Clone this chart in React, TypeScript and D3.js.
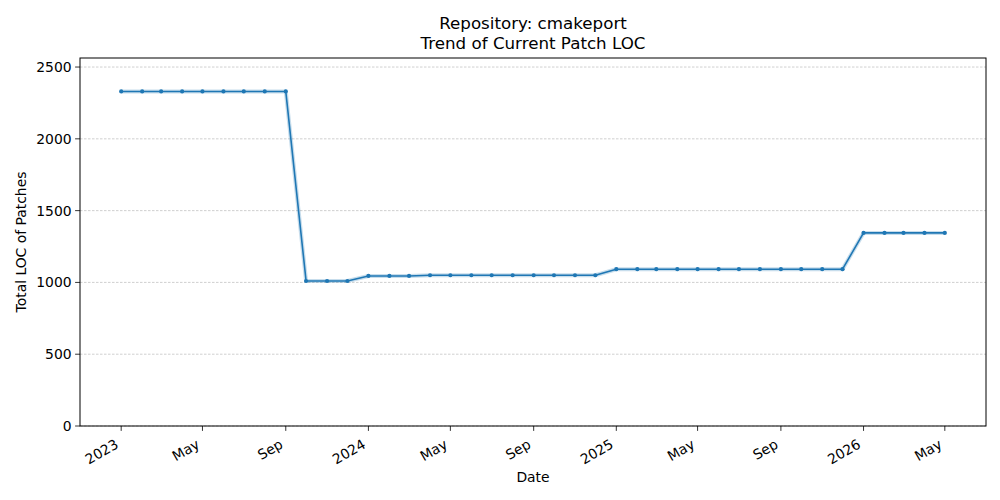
import React from "react";
import * as d3 from "d3";

const months: string[] = [
  "2023-01","2023-02","2023-03","2023-04","2023-05","2023-06","2023-07","2023-08","2023-09","2023-10","2023-11","2023-12",
  "2024-01","2024-02","2024-03","2024-04","2024-05","2024-06","2024-07","2024-08","2024-09","2024-10","2024-11","2024-12",
  "2025-01","2025-02","2025-03","2025-04","2025-05","2025-06","2025-07","2025-08","2025-09","2025-10","2025-11","2025-12",
  "2026-01","2026-02","2026-03","2026-04","2026-05",
];
const locValues: number[] = [
  2330,2330,2330,2330,2330,2330,2330,2330,2330,1010,1010,1010,
  1045,1045,1045,1050,1050,1050,1050,1050,1050,1050,1050,1050,
  1092,1092,1092,1092,1092,1092,1092,1092,1092,1092,1092,1092,
  1345,1345,1345,1345,1345,
];
const xTickMonths: string[] = ["2023-01","2023-05","2023-09","2024-01","2024-05","2024-09","2025-01","2025-05","2025-09","2026-01","2026-05"];
const yTicks: number[] = [0, 500, 1000, 1500, 2000, 2500];
const titleLines: string[] = ["Repository: cmakeport", "Trend of Current Patch LOC"];

const parse = (s: string) => {
  const [y, m] = s.split("-").map(Number);
  return new Date(y, m - 1, 1);
};
const monthNames = ["Jan","Feb","Mar","Apr","May","Jun","Jul","Aug","Sep","Oct","Nov","Dec"];
const fmt = (d: Date) => (d.getMonth() === 0 ? String(d.getFullYear()) : monthNames[d.getMonth()]);

export default function App() {
  const W = 1000, H = 500;
  const left = 80, right = 986, top = 58, bottom = 426;
  const font = "DejaVu Sans, sans-serif";
  const color = "#1f77b4";

  const dates = months.map(parse);
  const t0 = dates[0].getTime();
  const t1 = dates[dates.length - 1].getTime();
  const pad = (t1 - t0) * 0.05;
  const x = d3.scaleTime().domain([new Date(t0 - pad), new Date(t1 + pad)]).range([left, right]);
  const yMax = d3.max(locValues)! * 1.1;
  const y = d3.scaleLinear().domain([0, yMax]).range([bottom, top]);

  const data = dates.map((d, i) => ({ d, v: locValues[i] }));
  const line = d3.line<{ d: Date; v: number }>().x(p => x(p.d)).y(p => y(p.v));
  const path = line(data) || "";

  return (
    <svg width={W} height={H} style={{ position: "absolute", left: 0, top: 0, background: "#fff" }} fontFamily={font}>
      <rect x={0} y={0} width={W} height={H} fill="#fff" />
      {yTicks.map(t => (
        <line key={"g" + t} x1={left} x2={right} y1={y(t)} y2={y(t)} stroke="#b0b0b0" strokeWidth={0.6} strokeDasharray="2.5,1.5" />
      ))}
      <path d={path} fill="none" stroke={color} strokeWidth={4} strokeOpacity={0.25} strokeLinejoin="round" />
      <path d={path} fill="none" stroke={color} strokeWidth={1.6} strokeLinejoin="round" />
      {data.map((p, i) => (
        <circle key={i} cx={x(p.d)} cy={y(p.v)} r={2.1} fill={color} />
      ))}
      <rect x={left} y={top} width={right - left} height={bottom - top} fill="none" stroke="#000" strokeWidth={1} />
      {yTicks.map(t => (
        <g key={"y" + t}>
          <line x1={left - 4.9} x2={left} y1={y(t)} y2={y(t)} stroke="#000" strokeWidth={0.8} />
          <text x={left - 8.4} y={y(t)} dy="0.36em" textAnchor="end" fontSize={13.9} fill="#000">{t}</text>
        </g>
      ))}
      {xTickMonths.map(s => {
        const d = parse(s);
        const px = x(d);
        return (
          <g key={"x" + s}>
            <line x1={px} x2={px} y1={bottom} y2={bottom + 4.9} stroke="#000" strokeWidth={0.8} />
            <text transform={`translate(${px - 7},${bottom + 12}) rotate(-30)`} textAnchor="end" dy="0.75em" fontSize={13.9} fill="#000">{fmt(d)}</text>
          </g>
        );
      })}
      <text x={(left + right) / 2} y={482} textAnchor="middle" fontSize={13.9} fill="#000">Date</text>
      <text transform={`translate(26,${(top + bottom) / 2}) rotate(-90)`} textAnchor="middle" fontSize={13.9} fill="#000">Total LOC of Patches</text>
      {titleLines.map((l, i) => (
        <text key={i} x={(left + right) / 2} y={29 + i * 20} textAnchor="middle" fontSize={16.7} fill="#000">{l}</text>
      ))}
    </svg>
  );
}
